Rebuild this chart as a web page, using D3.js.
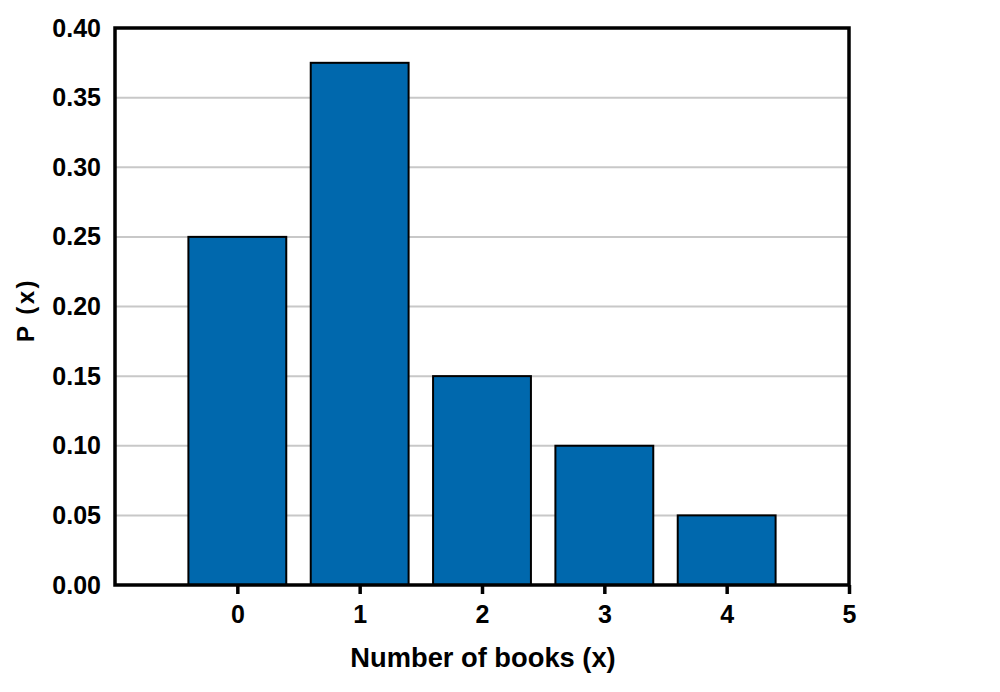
<!DOCTYPE html>
<html>
<head>
<meta charset="utf-8">
<script src="https://cdn.jsdelivr.net/npm/d3@7"></script>
<style>
  body { margin: 0; background: #fff; }
  svg { font-family: "Liberation Sans", Arial, sans-serif; }
</style>
</head>
<body>
<svg id="chart" width="1000" height="692"></svg>
<script>
const books = [0, 1, 2, 3, 4];
const probs = [0.25, 0.375, 0.15, 0.10, 0.05];
const xTicks = [0, 1, 2, 3, 4, 5];
const yTicks = [0, 0.05, 0.10, 0.15, 0.20, 0.25, 0.30, 0.35, 0.40];

const attr = { left: 115, right: 849, top: 28, bottom: 585 };
const svg = d3.select("#chart");

const scaleX = d3.scaleLinear().domain([-1, 5]).range([attr.left, attr.right]);
const scaleY = d3.scaleLinear().domain([0, 0.4]).range([attr.bottom, attr.top]);

// grid lines
svg.append("g")
  .selectAll("line")
  .data(yTicks.filter(d => d > 0 && d < 0.4))
  .enter()
  .append("line")
  .attr("x1", attr.left)
  .attr("x2", attr.right)
  .attr("y1", d => scaleY(d))
  .attr("y2", d => scaleY(d))
  .attr("stroke", "#c8c8c8")
  .attr("stroke-width", 2);

// bars
const barW = scaleX(0.4) - scaleX(-0.4);
svg.append("g")
  .selectAll("rect")
  .data(books)
  .enter()
  .append("rect")
  .attr("x", (d) => scaleX(d) - barW / 2)
  .attr("y", (d, i) => scaleY(probs[i]))
  .attr("width", barW)
  .attr("height", (d, i) => attr.bottom - scaleY(probs[i]))
  .attr("fill", "#0068ad")
  .attr("stroke", "#000")
  .attr("stroke-width", 2);

// frame
svg.append("rect")
  .attr("x", attr.left)
  .attr("y", attr.top)
  .attr("width", attr.right - attr.left)
  .attr("height", attr.bottom - attr.top)
  .attr("fill", "none")
  .attr("stroke", "#000")
  .attr("stroke-width", 3.5);

// x axis
const axisX = d3.axisBottom(scaleX)
  .tickValues(xTicks)
  .tickFormat(d3.format("d"))
  .tickSize(9)
  .tickPadding(11);
const gx = svg.append("g")
  .attr("transform", `translate(0, ${attr.bottom})`)
  .call(axisX);
gx.select(".domain").remove();
gx.selectAll(".tick line").attr("stroke", "#000").attr("stroke-width", 3.5);
gx.selectAll("text")
  .attr("fill", "#000")
  .style("font-size", "25px")
  .style("font-weight", "bold");

// y axis
const axisY = d3.axisLeft(scaleY)
  .tickValues(yTicks)
  .tickFormat(d3.format(".2f"))
  .tickSize(0)
  .tickPadding(14);
const gy = svg.append("g")
  .attr("transform", `translate(${attr.left}, 0)`)
  .call(axisY);
gy.select(".domain").remove();
gy.selectAll("text")
  .attr("fill", "#000")
  .style("font-size", "25px")
  .style("font-weight", "bold");

// titles
svg.append("text")
  .attr("x", (attr.left + attr.right) / 2 + 1)
  .attr("y", 667)
  .attr("text-anchor", "middle")
  .style("font-size", "27.3px")
  .style("font-weight", "bold")
  .text("Number of books (x)");

svg.append("text")
  .attr("transform", "rotate(-90)")
  .attr("x", -310)
  .attr("y", 34)
  .attr("text-anchor", "middle")
  .style("font-size", "24px")
  .style("font-weight", "bold")
  .style("letter-spacing", "2.5px")
  .text("P (x)");
</script>
</body>
</html>
